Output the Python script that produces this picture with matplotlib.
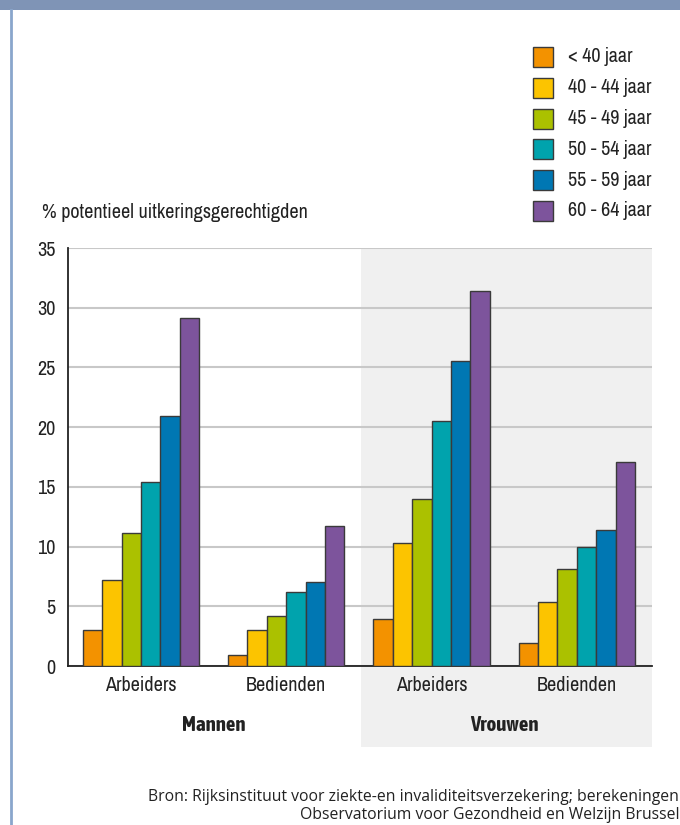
import matplotlib
matplotlib.use("Agg")
import matplotlib.pyplot as plt
import numpy as np
from matplotlib.patches import Rectangle

# data
categories = ["Arbeiders", "Bedienden", "Arbeiders", "Bedienden"]
sexes = ["Mannen", "Vrouwen"]
age_groups = ["< 40 jaar", "40 - 44 jaar", "45 - 49 jaar",
              "50 - 54 jaar", "55 - 59 jaar", "60 - 64 jaar"]
lt40 = [3.0, 0.9, 3.9, 1.9]
a40_44 = [7.2, 3.0, 10.3, 5.4]
a45_49 = [11.1, 4.2, 14.0, 8.1]
a50_54 = [15.4, 6.2, 20.5, 10.0]
a55_59 = [20.9, 7.0, 25.5, 11.4]
a60_64 = [29.1, 11.7, 31.4, 17.1]
series = [lt40, a40_44, a45_49, a50_54, a55_59, a60_64]
colors = ["#f39200", "#fcc400", "#abc100", "#00a3ad", "#0077b3", "#7d549c"]

plt.rcParams["font.family"] = ["Archivo Narrow", "DejaVu Sans"]
TXT = "#222222"

W, H = 680, 825
fig = plt.figure(figsize=(W / 100, H / 100), dpi=100)


def fx(px):
    return px / W


def fy(py):
    return 1 - py / H


# header band and left frame line
fig.patches.append(Rectangle((0, fy(10)), 1, 10 / H, transform=fig.transFigure,
                             facecolor="#7f94b6", edgecolor="none"))
fig.lines.append(plt.Line2D([fx(11), fx(11)], [0, fy(10)], transform=fig.transFigure,
                            color="#8aa6cc", lw=2))

# grey background behind the Vrouwen half
fig.patches.append(Rectangle((fx(361), fy(747)), fx(652) - fx(361), fy(248) - fy(747),
                             transform=fig.transFigure, facecolor="#f0f0f0",
                             edgecolor="none", zorder=-1))

ax = fig.add_axes([fx(68), fy(666), fx(652) - fx(68), fy(248) - fy(666)])
ax.patch.set_alpha(0)

x = np.arange(len(categories))
w = 0.1336
for i, (vals, c) in enumerate(zip(series, colors)):
    ax.bar(x + (i - 2.5) * w, vals, width=w, color=c, edgecolor="#3a3a3a",
           linewidth=1.0, label=age_groups[i], zorder=3)

ax.set_xlim(-0.502, 3.517)
ax.set_ylim(0, 35)
ax.set_yticks(range(0, 36, 5))
ax.yaxis.grid(True, color="#c8c8c8", lw=1.5)
ax.set_axisbelow(True)
for s in ["top", "right"]:
    ax.spines[s].set_visible(False)
for s in ["left", "bottom"]:
    ax.spines[s].set_color(TXT)
    ax.spines[s].set_linewidth(1.3)
ax.tick_params(axis="both", length=0, labelsize=14.5, colors=TXT)
ax.tick_params(axis="y", pad=9)
ax.tick_params(axis="x", pad=7)
ax.set_xticks(x)
ax.set_xticklabels(categories)

# sex labels under each pair of groups (the narrow font has no bold cut)
for j, s in enumerate(sexes):
    ax.text(0.5 + 2 * j, -0.142, s, transform=ax.get_xaxis_transform(),
            ha="center", va="center", fontsize=15, fontweight="bold", color=TXT,
            family=["Asap Condensed", "DejaVu Sans"])

fig.text(fx(42), fy(213), "% potentieel uitkeringsgerechtigden", fontsize=14.5,
         color=TXT, ha="left", va="center")

# legend drawn by hand to match the stacked boxes
for i, (lab, c) in enumerate(zip(age_groups, colors)):
    yc = 57 + i * 30.8
    fig.patches.append(Rectangle((fx(533), fy(yc + 10)), 20 / W, 20 / H,
                                 transform=fig.transFigure, facecolor=c,
                                 edgecolor="#3a3a3a", lw=1.0))
    fig.text(fx(568), fy(yc), lab, fontsize=14.5, color=TXT, ha="left", va="center")

src = ("Bron: Rijksinstituut voor ziekte-en invaliditeitsverzekering; berekeningen\n"
       "Observatorium voor Gezondheid en Welzijn Brussel")
fig.text(fx(679), fy(806), src, fontsize=11.3, family=["Open Sans", "DejaVu Sans"],
         color=TXT, ha="right", va="center", linespacing=1.2)

fig.savefig("out.png", dpi=100)
